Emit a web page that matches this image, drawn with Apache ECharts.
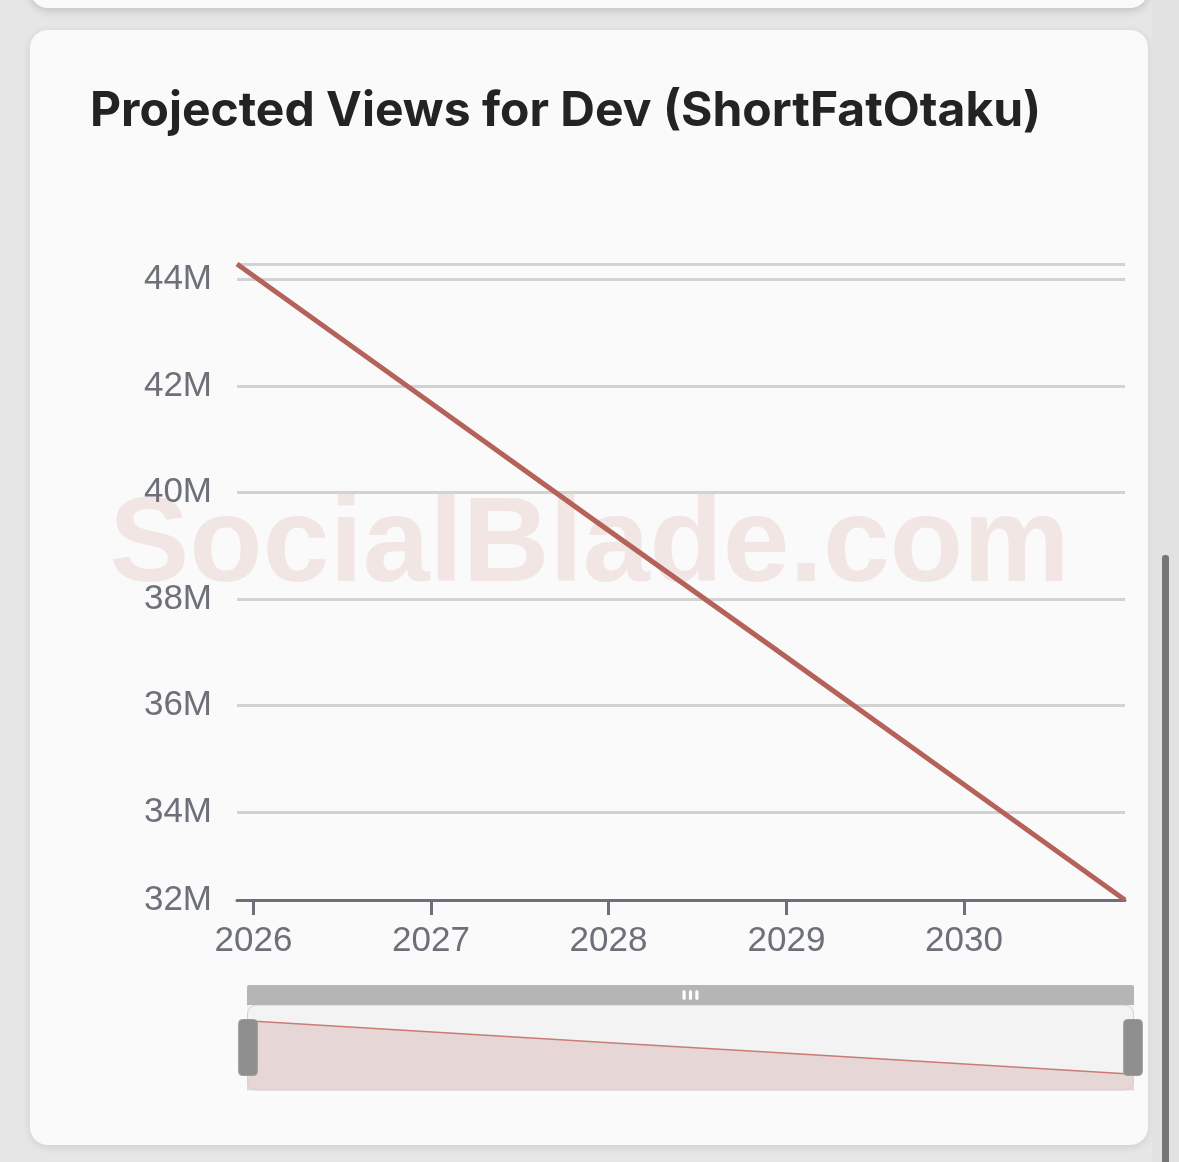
<!DOCTYPE html>
<html>
<head>
<meta charset="utf-8">
<script src="https://cdn.jsdelivr.net/npm/echarts@6/dist/echarts.min.js"></script>
<style>
  html, body { margin:0; padding:0; width:1179px; height:1162px; overflow:hidden; background:#e6e6e6; }
  #prev { position:absolute; left:30px; top:-120px; width:1118px; height:128px; background:#fafafa; border-radius:18px; box-shadow:0 2px 10px rgba(0,0,0,0.18); }
  #card { position:absolute; left:30px; top:30px; width:1118px; height:1115px; background:#fafafa; border-radius:18px; box-shadow:0 2px 8px rgba(0,0,0,0.10); }
  #track { position:absolute; left:1152px; top:0; width:27px; height:1162px; background:#e2e2e2; }
  #thumb { position:absolute; left:1162px; top:555px; width:7px; height:620px; background:#767676; border-radius:3px; }
  #chart { position:absolute; left:0; top:0; width:1179px; height:1162px; }
</style>
</head>
<body>
<div id="prev"></div>
<div id="card"></div>
<div id="track"></div>
<div id="thumb"></div>
<div id="chart"></div>
<script>
// Data
const titleText = 'Projected Views for Dev (ShortFatOtaku)';
const watermarkText = 'SocialBlade.com';
const dates = ['2025-11-28', '2026-11-28', '2027-11-28', '2028-11-28', '2029-11-28', '2030-11-28'];
const views = [44290000, 41900000, 39510000, 37130000, 34740000, 32350000];

const seriesData = dates.map((d, i) => [d, views[i]]);
const chart = echarts.init(document.getElementById('chart'), null, { renderer: 'canvas' });

chart.setOption({
  backgroundColor: 'transparent',
  animation: false,
  title: {
    text: titleText,
    left: 85,
    top: 83,
    textStyle: { fontFamily: 'Inter', fontWeight: 700, fontSize: 48, color: '#232323' }
  },
  graphic: [{
    type: 'text',
    z: -10,
    left: 'center',
    top: 488,
    style: {
      text: watermarkText,
      fontFamily: 'Liberation Sans',
      fontWeight: 'bold',
      fontSize: 120,
      fill: '#f2e6e4'
    }
  }],
  grid: { left: 237, right: 54, top: 264, bottom: 262 },
  xAxis: {
    type: 'time',
    min: 'dataMin',
    max: 'dataMax',
    axisLine: { lineStyle: { color: '#6e7079', width: 3 } },
    axisTick: { length: 15, lineStyle: { color: '#6e7079', width: 3 } },
    axisLabel: {
      color: '#6e7079', fontSize: 35, fontFamily: 'Liberation Sans', margin: 24,
      showMinLabel: false, showMaxLabel: false,
      formatter: '{yyyy}'
    },
    splitLine: { show: false }
  },
  yAxis: {
    type: 'value',
    min: 'dataMin',
    max: 'dataMax',
    axisLine: { show: false },
    axisTick: { show: false },
    axisLabel: {
      color: '#6e7079', fontSize: 35, fontFamily: 'Liberation Sans', margin: 25,
      formatter: v => Math.round(v / 1e6) + 'M'
    },
    splitLine: { lineStyle: { color: '#d2d2d2', width: 3 } }
  },
  dataZoom: [{
    type: 'slider',
    left: 239,
    right: 53,
    top: 985,
    height: 86,
    showDetail: false,
    borderColor: '#d2d2d2',
    borderRadius: 9,
    backgroundColor: '#f3f3f3',
    fillerColor: 'rgba(0,0,0,0)',
    handleIcon: 'path://M2,0 L8,0 Q10,0 10,2 L10,28 Q10,30 8,30 L2,30 Q0,30 0,28 L0,2 Q0,0 2,0 Z',
    handleSize: '65%',
    handleStyle: { color: '#8f8f8f', borderColor: '#9a9a9a', borderWidth: 1 },
    moveHandleSize: 20,
    moveHandleStyle: { color: '#b5b5b5', opacity: 1 },
    dataBackground: {
      lineStyle: { color: '#c97c76', width: 1.5, opacity: 1 },
      areaStyle: { color: '#e6d6d5', opacity: 1 }
    },
    selectedDataBackground: {
      lineStyle: { color: '#c97c76', width: 1.5, opacity: 1 },
      areaStyle: { color: '#e6d6d5', opacity: 1 }
    }
  }],
  series: [{
    type: 'line',
    data: seriesData,
    showSymbol: false,
    symbol: 'none',
    lineStyle: { color: '#b5635a', width: 5 },
    itemStyle: { color: '#b5635a' }
  }]
});
</script>
</body>
</html>
